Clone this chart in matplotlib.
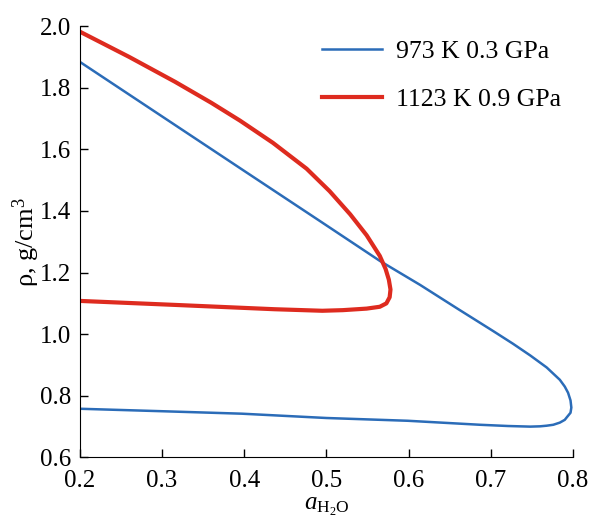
import matplotlib
matplotlib.use('Agg')
import matplotlib.pyplot as plt

plt.rcParams['font.family'] = 'Liberation Serif'
plt.rcParams['mathtext.fontset'] = 'custom'
plt.rcParams['mathtext.rm'] = 'Liberation Serif'
plt.rcParams['mathtext.it'] = 'Liberation Serif:italic'

# 973 K 0.3 GPa (upper branch -> turn -> lower branch)
a_973 = [0.200, 0.300, 0.400, 0.490, 0.565, 0.614, 0.660, 0.703, 0.727, 0.748,
         0.768, 0.784, 0.790, 0.794, 0.797, 0.798, 0.797, 0.793, 0.790, 0.784,
         0.776, 0.768, 0.760, 0.748, 0.721, 0.687, 0.599, 0.500, 0.397, 0.300,
         0.200]
rho_973 = [1.884, 1.707, 1.530, 1.371, 1.238, 1.160, 1.082, 1.010, 0.969, 0.931,
           0.892, 0.852, 0.830, 0.810, 0.785, 0.762, 0.745, 0.732, 0.722, 0.713,
           0.706, 0.703, 0.701, 0.700, 0.702, 0.706, 0.719, 0.728, 0.742, 0.750,
           0.758]

# 1123 K 0.9 GPa
a_1123 = [0.200, 0.260, 0.316, 0.360, 0.395, 0.435, 0.476, 0.504, 0.529, 0.549,
          0.565, 0.572, 0.576, 0.578, 0.577, 0.573, 0.565, 0.549, 0.520, 0.495,
          0.437, 0.316, 0.200]
rho_1123 = [1.982, 1.900, 1.819, 1.751, 1.693, 1.621, 1.537, 1.464, 1.389, 1.321,
            1.254, 1.212, 1.177, 1.145, 1.120, 1.100, 1.089, 1.083, 1.078, 1.076,
            1.081, 1.095, 1.108]

labels = ['973 K 0.3 GPa', '1123 K 0.9 GPa']

fig = plt.figure(figsize=(5.95, 5.21), dpi=100)
ax = fig.add_axes([0.134, 0.122, 0.829, 0.828])

ax.plot(a_973, rho_973, color='#2b6cb8', lw=1.8, label=labels[0])
ax.plot(a_1123, rho_1123, color='#de2b1f', lw=3.0, label=labels[1])

ax.set_xlim(0.2, 0.8)
ax.set_ylim(0.6, 2.0)
ax.set_xticks([0.2, 0.3, 0.4, 0.5, 0.6, 0.7, 0.8])
ax.set_yticks([0.6, 0.8, 1.0, 1.2, 1.4, 1.6, 1.8, 2.0])
ax.tick_params(direction='in', labelsize=18, length=6, width=1)
ax.tick_params(axis='x', pad=9)
ax.tick_params(axis='y', pad=6)
ax.spines['top'].set_visible(False)
ax.spines['right'].set_visible(False)

ax.set_xlabel(r'$a_{\mathrm{H_2O}}$', fontsize=18, labelpad=3)
ax.set_ylabel(r'ρ, g/cm$^3$', fontsize=19, labelpad=-1)

ax.legend(loc='upper left', frameon=False, fontsize=18.5, handlelength=2.35,
          handletextpad=0.55, labelspacing=0.95, borderpad=0, borderaxespad=0,
          bbox_to_anchor=(0.491, 0.967))

fig.savefig('out.png', dpi=100)
